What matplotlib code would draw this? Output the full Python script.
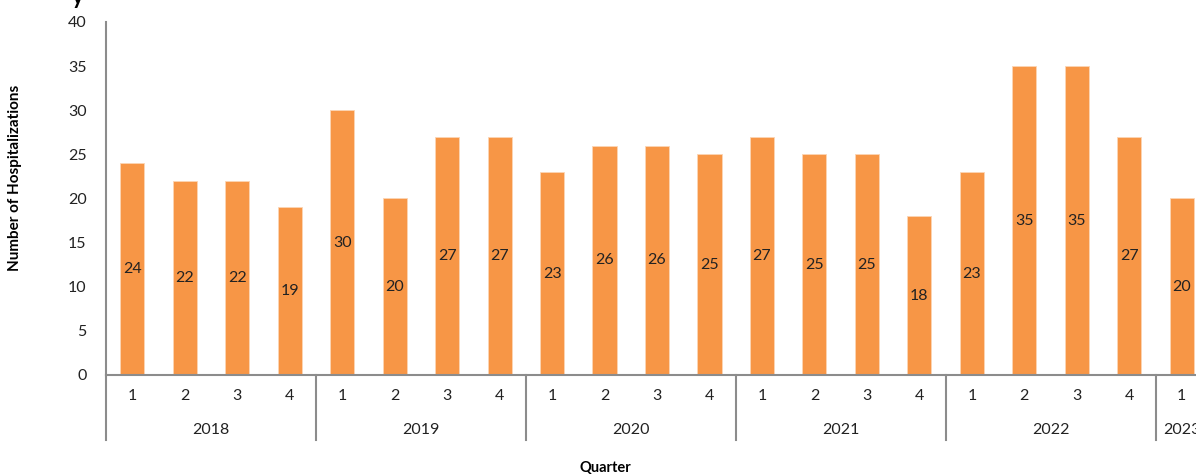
import matplotlib.pyplot as plt
import matplotlib.transforms as mtransforms

plt.rcParams['font.family'] = ['Lato', 'DejaVu Sans']

years = ['2018', '2019', '2020', '2021', '2022', '2023']
quarters = ['1', '2', '3', '4'] * 5 + ['1']
hosp = [24, 22, 22, 19,
        30, 20, 27, 27,
        23, 26, 26, 25,
        27, 25, 25, 18,
        23, 35, 35, 27,
        20]

W, H = 1196, 476
fig = plt.figure(figsize=(W / 100, H / 100), dpi=100)
# axes runs past the right edge, like the cropped original
ax = fig.add_axes([106 / W, 101 / H, 1102 / W, 353 / H])

orange = '#F79646'
grey = '#8C8C8C'

x = list(range(len(hosp)))
bars = ax.bar(x, hosp, width=0.46, color=orange, edgecolor='#FCD5B4', linewidth=0.6)
for xi, v in zip(x, hosp):
    ax.text(xi, v / 2, str(v), ha='center', va='center', fontsize=11.5, color='#222222')

ax.set_xlim(-0.5, 20.5)
ax.set_ylim(0, 40)
ax.set_yticks(range(0, 41, 5))
ax.tick_params(axis='y', length=0, labelsize=11.5, labelcolor='#222222', pad=14)
ax.set_xticks(x)
ax.set_xticklabels(quarters)
ax.tick_params(axis='x', length=0, labelsize=11.5, labelcolor='#222222', pad=10)

for s in ['top', 'right']:
    ax.spines[s].set_visible(False)
for s in ['left', 'bottom']:
    ax.spines[s].set_color(grey)
    ax.spines[s].set_linewidth(1.5)

trans = mtransforms.blended_transform_factory(ax.transData, ax.transAxes)
for k in range(len(years)):
    sep = -0.5 + 4 * k
    ax.plot([sep, sep], [0, -0.184], color=grey, lw=1.5, transform=trans, clip_on=False)
    members = [i for i in x if i // 4 == k]
    mid = sum(members) / len(members)
    ax.text(mid, -0.156, years[k], ha='center', va='center', fontsize=11.5,
            color='#222222', transform=trans)

fig.text(605 / W, 1 - 468 / H, 'Quarter', ha='center', va='center',
         fontsize=10.5, fontweight='bold')
fig.text(15 / W, 1 - 178 / H, 'Number of Hospitalizations', ha='center', va='center',
         rotation=90, fontsize=11, fontweight='bold')
# descender of the cut-off title
fig.text(72 / W, 1 - 4 / H, 'y', ha='left', va='baseline', fontsize=16,
         fontweight='bold')

fig.savefig('out.png', dpi=100)
